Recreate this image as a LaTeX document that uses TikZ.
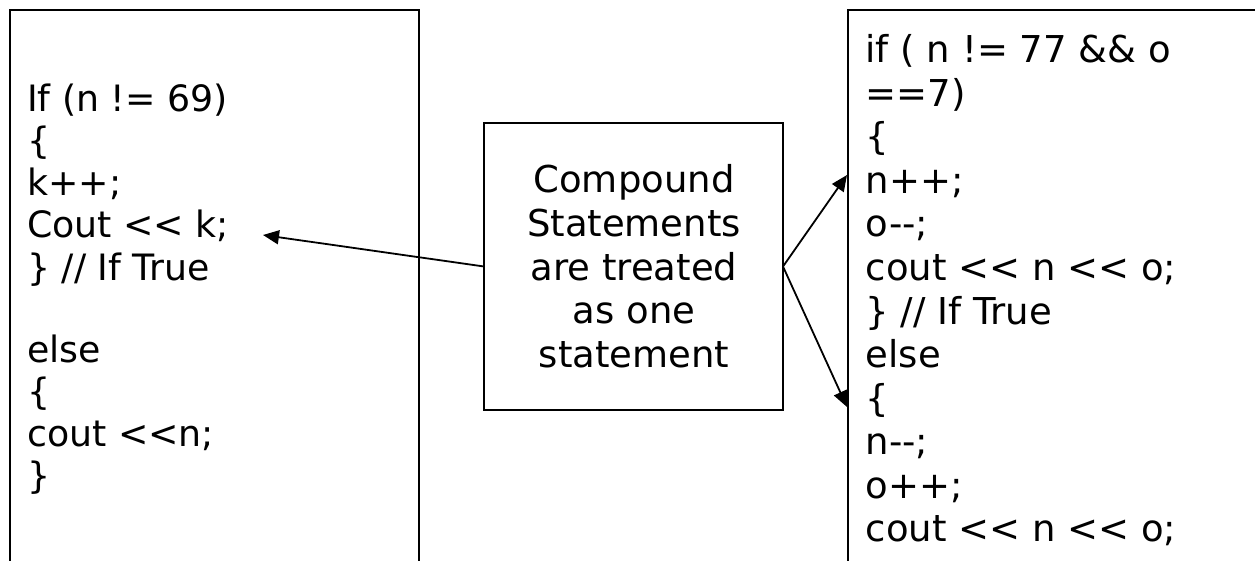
\documentclass[tikz,border=0pt]{standalone}
\usepackage{fontspec}
\newfontfamily\dvs{DejaVu Sans}
\usetikzlibrary{arrows.meta}
\begin{document}
\begin{tikzpicture}[x=1pt,y=-1pt,
  box/.style={draw, line width=1.8pt, inner sep=0pt, outer sep=0pt, anchor=north west},
  lt/.style={font=\dvs\fontsize{36.3}{42}\selectfont, inner sep=0pt, anchor=base west},
  rt/.style={font=\dvs\fontsize{37}{43.5}\selectfont, inner sep=0pt, anchor=base west},
  mt/.style={font=\dvs\fontsize{37}{43.5}\selectfont, inner sep=0pt, anchor=base},
  arr/.style={-{Triangle[length=16pt,width=14pt]}, line width=1.8pt}]
\useasboundingbox (0,0) rectangle (1255,561);
% boxes
\node[box, minimum width=409pt, minimum height=700pt] (lbox) at (10,10) {};
\node[box, minimum width=500pt, minimum height=700pt] (rbox) at (848,10) {};
\node[box, minimum width=299pt, minimum height=287pt] (mid) at (484,123) {};
% left code
\node[lt] (l1) at (27,112) {If (n != 69)};
\node[lt] (l2) at (27,154) {\{};
\node[lt] (l3) at (27,196) {k++;};
\node[lt] (l4) at (27,238) {Cout << k;};
\node[lt] (l5) at (27,280) {\} // If True};
\node[lt] (l6) at (27,362) {else};
\node[lt] (l7) at (27,404) {\{};
\node[lt] (l8) at (27,446) {cout <<n;};
\node[lt] (l9) at (27,488) {\}};
% middle text
\node[mt] (m1) at (634,193) {Compound};
\node[mt] (m2) at (634,236.5) {Statements};
\node[mt] (m3) at (634,280) {are treated};
\node[mt] (m4) at (634,323.5) {as one};
\node[mt] (m5) at (634,367) {statement};
% right code
\node[rt] (r1) at (865.5,63) {if ( n != 77 \&\& o};
\node[rt] (r2) at (865.5,106.5) {==7)};
\node[rt] (r3) at (865.5,150) {\{};
\node[rt] (r4) at (865.5,193.5) {n++;};
\node[rt] (r5) at (865.5,237) {o--;};
\node[rt] (r6) at (865.5,280.5) {cout << n << o;};
\node[rt] (r7) at (865.5,324) {\} // If True};
\node[rt] (r8) at (865.5,367.5) {else};
\node[rt] (r9) at (865.5,411) {\{};
\node[rt] (r10) at (865.5,454.5) {n--;};
\node[rt] (r11) at (865.5,498) {o++;};
\node[rt] (r12) at (865.5,541.5) {cout << n << o;};
% arrows
\coordinate (ltip) at (263,235);
\coordinate (rtop) at (847,175);
\coordinate (rbot) at (847,407);
\draw[arr] (mid.west) -- (ltip);
\draw[arr] (mid.east) -- (rtop);
\draw[arr] (mid.east) -- (rbot);
\end{tikzpicture}
\end{document}
